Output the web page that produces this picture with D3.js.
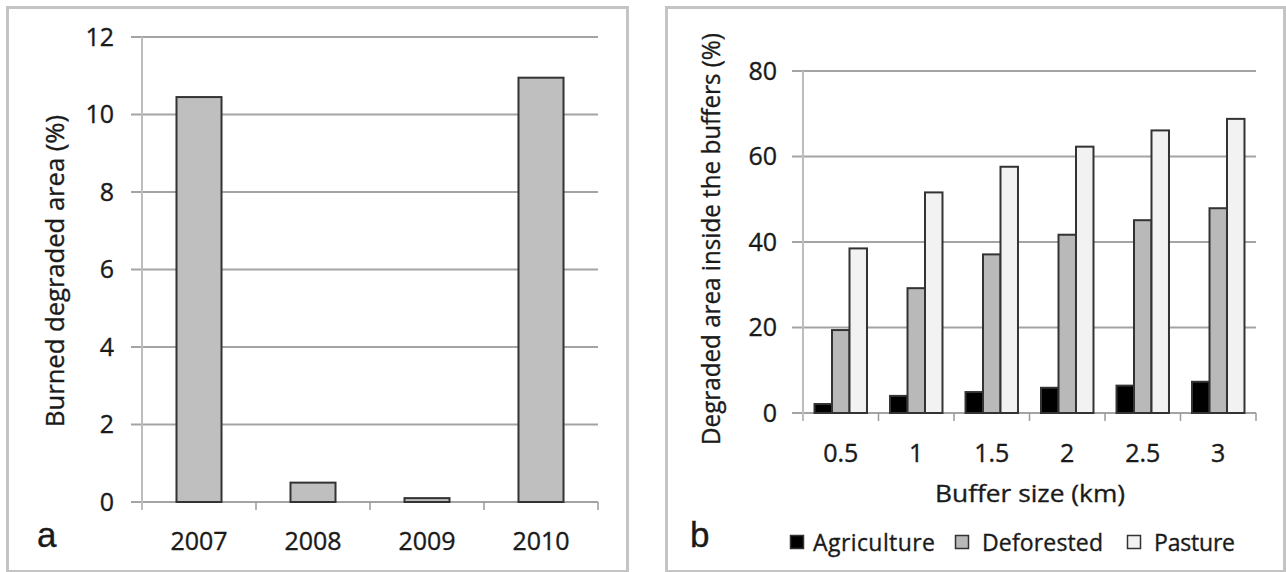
<!DOCTYPE html>
<html>
<head>
<meta charset="utf-8">
<script src="https://cdn.jsdelivr.net/npm/d3@7"></script>
<style>
  body { margin: 0; background: #fff; }
  svg { display: block; }
  text { font-family: "Open Sans", sans-serif; fill: #1a1a1a; stroke: #1a1a1a; stroke-width: 0.35px; }
</style>
</head>
<body>
<div id="chart"></div>
<script>
// panel a data
var years = ["2007", "2008", "2009", "2010"];
var burned = [10.45, 0.5, 0.1, 10.95];
var yTicksA = [0, 2, 4, 6, 8, 10, 12];

// panel b data
var buffers = ["0.5", "1", "1.5", "2", "2.5", "3"];
var seriesNames = ["Agriculture", "Deforested", "Pasture"];
var agriculture = [2.1, 4.0, 4.9, 5.9, 6.4, 7.3];
var deforested = [19.4, 29.2, 37.1, 41.7, 45.1, 47.9];
var pasture = [38.5, 51.6, 57.6, 62.3, 66.1, 68.8];
var yTicksB = [0, 20, 40, 60, 80];

var seriesColors = ["#000000", "#b9b9b9", "#f2f2f2"];
var gridColor = "#a4a4a4";

var svg = d3.select('#chart').append('svg')
    .attr('width', 1286)
    .attr('height', 572);

// panel borders
svg.append('rect').attr('x', 7.5).attr('y', 7.5).attr('width', 620).attr('height', 564)
    .attr('fill', 'none').attr('stroke', '#c4c4c4').attr('stroke-width', 3);
svg.append('rect').attr('x', 666.5).attr('y', 7.5).attr('width', 618).attr('height', 564)
    .attr('fill', 'none').attr('stroke', '#c4c4c4').attr('stroke-width', 3);

// ---------- panel a ----------
var xA = d3.scaleBand().domain(years).range([142, 598])
    .paddingInner(0.605).paddingOuter(0.3025);
var yA = d3.scaleLinear().domain([0, 12]).range([502, 37]);

var gA = svg.append('g');

// gridlines
gA.selectAll('line.grid').data(yTicksA).enter().append('line')
    .attr('class', 'grid')
    .attr('x1', 131).attr('x2', 598)
    .attr('y1', function (d) { return yA(d); })
    .attr('y2', function (d) { return yA(d); })
    .attr('stroke', gridColor).attr('stroke-width', 2);

// y axis line
gA.append('line').attr('x1', 142).attr('x2', 142).attr('y1', yA(12)).attr('y2', 510)
    .attr('stroke', '#bdbdbd').attr('stroke-width', 2);

// category separators
var sepA = d3.range(years.length).map(function (i) { return 142 + (i + 1) * xA.step(); });
gA.selectAll('line.sep').data(sepA).enter().append('line')
    .attr('x1', function (d) { return d; }).attr('x2', function (d) { return d; })
    .attr('y1', 502).attr('y2', 510)
    .attr('stroke', '#9a9a9a').attr('stroke-width', 1.5);

var yAxisA = d3.axisLeft(yA).tickValues(yTicksA).tickSize(0).tickPadding(28);
gA.append('g').attr('transform', 'translate(142,0)').call(yAxisA)
    .call(function (g) { g.select('.domain').remove(); })
    .selectAll('text').style('font-size', '25px').attr('fill', '#1a1a1a')
    .attr('font-family', '"Open Sans", sans-serif');

var xAxisA = d3.axisBottom(xA).tickSize(0).tickPadding(30);
gA.append('g').attr('transform', 'translate(0,502)').call(xAxisA)
    .call(function (g) { g.select('.domain').remove(); })
    .selectAll('text').style('font-size', '25px').attr('fill', '#1a1a1a')
    .attr('font-family', '"Open Sans", sans-serif');

// bars
gA.selectAll('rect.bar').data(years).enter().append('rect')
    .attr('x', function (d) { return xA(d); })
    .attr('y', function (d, i) { return yA(burned[i]); })
    .attr('width', xA.bandwidth())
    .attr('height', function (d, i) { return yA(0) - yA(burned[i]); })
    .attr('fill', '#bfbfbf').attr('stroke', '#333').attr('stroke-width', 2);

// y title
gA.append('text')
    .attr('transform', 'translate(64,271) rotate(-90)')
    .attr('text-anchor', 'middle')
    .attr('textLength', 312).attr('lengthAdjust', 'spacingAndGlyphs')
    .style('font-size', '25px')
    .text('Burned degraded area (%)');

gA.append('text').attr('x', 37).attr('y', 547)
    .style('font-family', '"Liberation Sans", sans-serif').style('font-size', '35px')
    .attr('fill', '#111').text('a');

// ---------- panel b ----------
var x0 = d3.scaleBand().domain(buffers).range([803, 1256])
    .paddingInner(0.305).paddingOuter(0.1525);
var x1 = d3.scaleBand().domain(seriesNames).range([0, x0.bandwidth()]);
var yB = d3.scaleLinear().domain([0, 80]).range([413, 71]);

var gB = svg.append('g');

gB.selectAll('line.grid').data(yTicksB).enter().append('line')
    .attr('x1', 792).attr('x2', 1256)
    .attr('y1', function (d) { return yB(d); })
    .attr('y2', function (d) { return yB(d); })
    .attr('stroke', gridColor).attr('stroke-width', 2);

gB.append('line').attr('x1', 803).attr('x2', 803).attr('y1', yB(80)).attr('y2', 421)
    .attr('stroke', '#bdbdbd').attr('stroke-width', 2);

var sepB = d3.range(buffers.length).map(function (i) { return 803 + (i + 1) * x0.step(); });
gB.selectAll('line.sep').data(sepB).enter().append('line')
    .attr('x1', function (d) { return d; }).attr('x2', function (d) { return d; })
    .attr('y1', 413).attr('y2', 421)
    .attr('stroke', '#9a9a9a').attr('stroke-width', 1.5);

var yAxisB = d3.axisLeft(yB).tickValues(yTicksB).tickSize(0).tickPadding(26);
gB.append('g').attr('transform', 'translate(803,0)').call(yAxisB)
    .call(function (g) { g.select('.domain').remove(); })
    .selectAll('text').style('font-size', '25px').attr('fill', '#1a1a1a')
    .attr('font-family', '"Open Sans", sans-serif');

var xAxisB = d3.axisBottom(x0).tickSize(0).tickPadding(31);
gB.append('g').attr('transform', 'translate(0,413)').call(xAxisB)
    .call(function (g) { g.select('.domain').remove(); })
    .selectAll('text').style('font-size', '25px').attr('fill', '#1a1a1a')
    .attr('font-family', '"Open Sans", sans-serif');

var seriesValues = [agriculture, deforested, pasture];
var groups = gB.selectAll('g.group').data(buffers).enter().append('g')
    .attr('transform', function (d) { return 'translate(' + x0(d) + ',0)'; });

groups.selectAll('rect').data(function (d, i) {
        return seriesNames.map(function (s, j) { return { key: s, value: seriesValues[j][i], idx: j }; });
    }).enter().append('rect')
    .attr('x', function (d) { return x1(d.key); })
    .attr('y', function (d) { return yB(d.value); })
    .attr('width', x1.bandwidth())
    .attr('height', function (d) { return yB(0) - yB(d.value); })
    .attr('fill', function (d) { return seriesColors[d.idx]; })
    .attr('stroke', '#333').attr('stroke-width', 2);

gB.append('text')
    .attr('transform', 'translate(720,239) rotate(-90)')
    .attr('text-anchor', 'middle')
    .attr('textLength', 412).attr('lengthAdjust', 'spacingAndGlyphs')
    .style('font-size', '25px')
    .text('Degraded area inside the buffers (%)');

gB.append('text').attr('x', 1030).attr('y', 502)
    .attr('text-anchor', 'middle')
    .attr('textLength', 190).attr('lengthAdjust', 'spacingAndGlyphs')
    .style('font-size', '24px')
    .text('Buffer size (km)');

gB.append('text').attr('x', 690).attr('y', 547)
    .style('font-family', '"Liberation Sans", sans-serif').style('font-size', '35px')
    .attr('fill', '#111').text('b');

// legend
var legendX = [790, 955, 1127];
var legendLen = [122, 121, 81];
var legend = gB.selectAll('g.legend').data(seriesNames).enter().append('g')
    .attr('transform', function (d, i) { return 'translate(' + legendX[i] + ',0)'; });
legend.append('rect').attr('x', 0.5).attr('y', 535.5).attr('width', 13).attr('height', 13)
    .attr('fill', function (d, i) { return seriesColors[i]; })
    .attr('stroke', '#333').attr('stroke-width', 1.5);
legend.append('text').attr('x', function (d, i) { return i === 0 ? 23 : 27; }).attr('y', 551)
    .attr('textLength', function (d, i) { return legendLen[i]; })
    .attr('lengthAdjust', 'spacing')
    .style('font-size', '23px')
    .text(function (d) { return d; });
</script>
</body>
</html>
